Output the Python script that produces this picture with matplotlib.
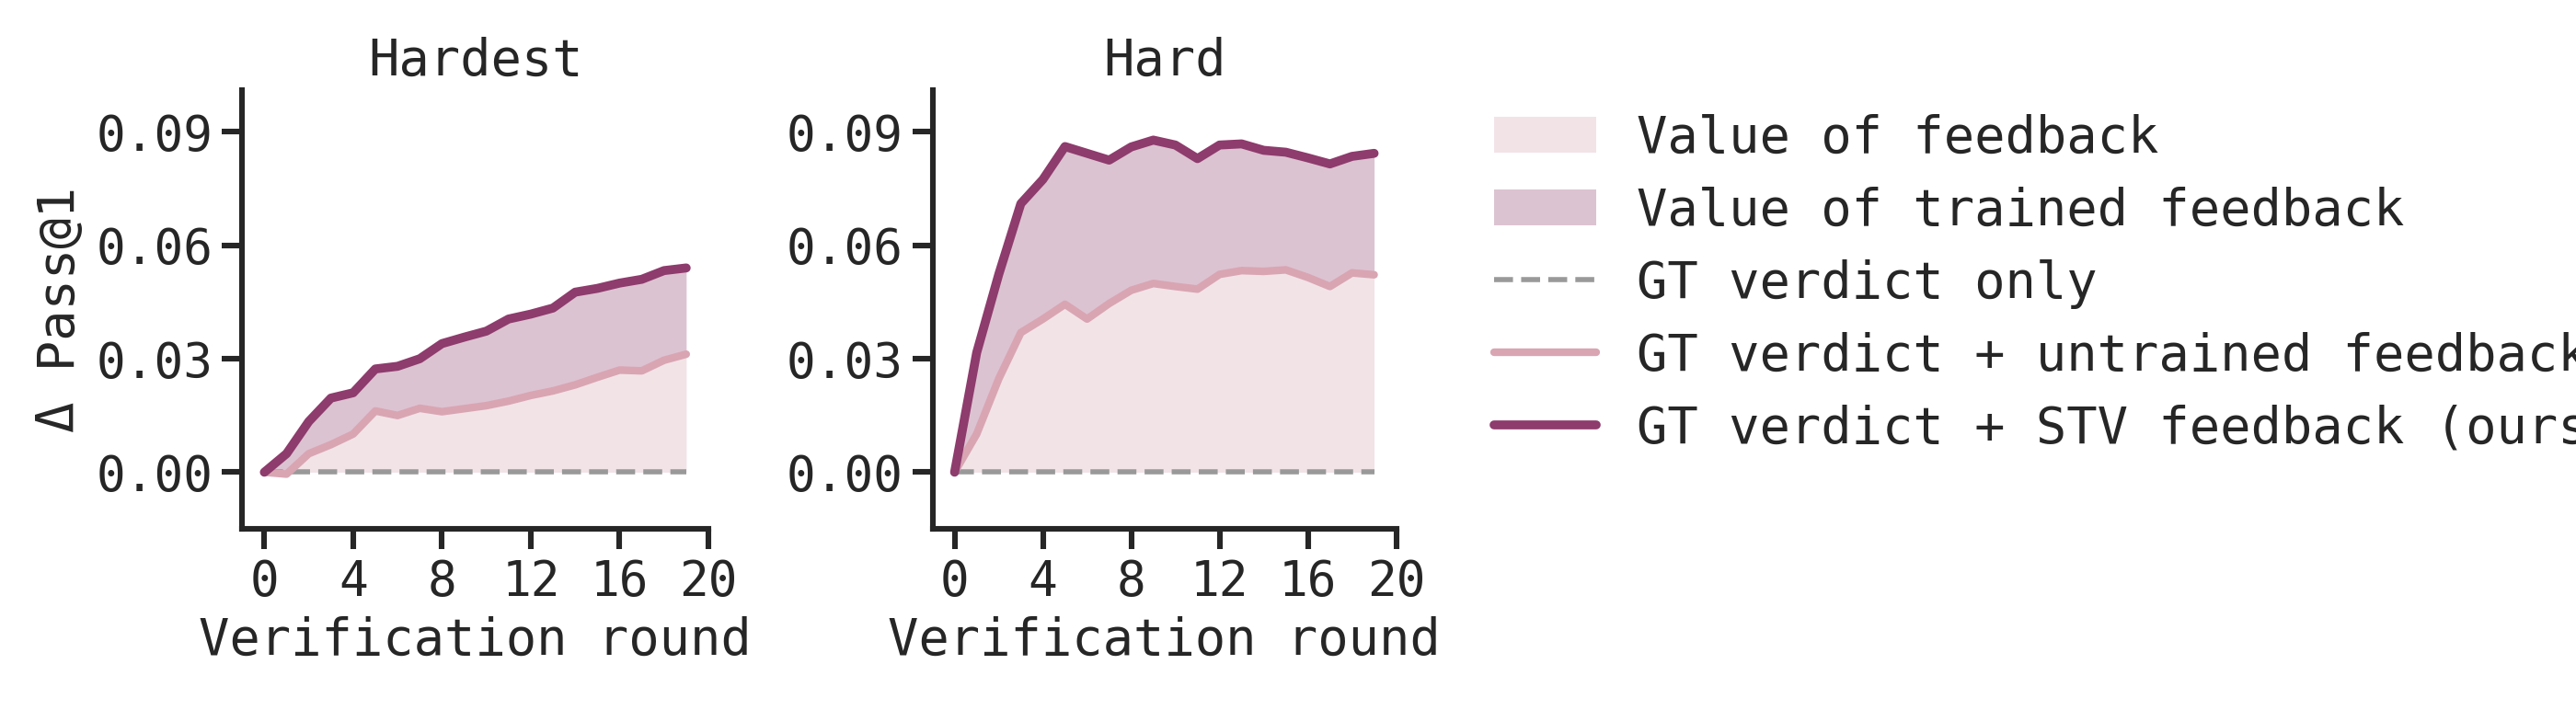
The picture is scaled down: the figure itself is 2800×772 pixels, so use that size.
import matplotlib
matplotlib.use("Agg")
import matplotlib.pyplot as plt
import seaborn as sns

rounds = list(range(20))
hardest_stv = [0, 0.0049, 0.0134, 0.0196, 0.021, 0.0273, 0.028, 0.030, 0.034, 0.0357,
               0.0373, 0.0405, 0.0418, 0.0434, 0.0476, 0.0486, 0.050, 0.051, 0.0533, 0.054]
hardest_untrained = [0, -0.0005, 0.0049, 0.0073, 0.0101, 0.0162, 0.015, 0.0169, 0.016, 0.0168,
                     0.0176, 0.0188, 0.0203, 0.0215, 0.0231, 0.0251, 0.027, 0.0268, 0.0296, 0.0312]
hard_stv = [0, 0.0316, 0.0523, 0.071, 0.0774, 0.0861, 0.0843, 0.0825, 0.086, 0.0878,
            0.0865, 0.0829, 0.0865, 0.0868, 0.0851, 0.0846, 0.0831, 0.0815, 0.0835, 0.0843]
hard_untrained = [0, 0.0101, 0.0247, 0.0369, 0.0405, 0.0444, 0.0405, 0.0446, 0.0481, 0.0499,
                  0.0491, 0.0484, 0.0523, 0.0533, 0.0531, 0.0535, 0.0515, 0.0491, 0.0527, 0.0522]
panels = [("Hardest", hardest_untrained, hardest_stv), ("Hard", hard_untrained, hard_stv)]

c_stv = '#8e3b6d'
c_untr = '#d9a5b3'
c_fill1 = '#f2e3e7'
c_fill2 = '#dcc3d1'

sns.set_theme(style='ticks')
plt.rcParams['font.family'] = ['DejaVu Sans Mono']
plt.rcParams['font.size'] = 20

fig = plt.figure(figsize=(14, 3.86), dpi=200)
axes = [fig.add_axes([0.094, 0.255, 0.181, 0.618]), fig.add_axes([0.362, 0.255, 0.18, 0.618])]

for ax, (title, untr, stv) in zip(axes, panels):
    ax.fill_between(rounds, 0, untr, color=c_fill1, lw=0, label='Value of feedback')
    ax.fill_between(rounds, untr, stv, color=c_fill2, lw=0, label='Value of trained feedback')
    ax.plot(rounds, [0] * len(rounds), '--', color='#999999', lw=2, label='GT verdict only')
    ax.plot(rounds, untr, color=c_untr, lw=3, label='GT verdict + untrained feedback')
    ax.plot(rounds, stv, color=c_stv, lw=3.5, label='GT verdict + STV feedback (ours)')
    ax.set_xlim(-1, 20)
    ax.set_ylim(-0.015, 0.101)
    ax.set_xticks([0, 4, 8, 12, 16, 20])
    ax.set_yticks([0, 0.03, 0.06, 0.09])
    ax.set_yticklabels(['0.00', '0.03', '0.06', '0.09'])
    ax.set_title(title, fontsize=20)
    ax.set_xlabel('Verification round', fontsize=20)
    ax.tick_params(labelsize=19, width=2.2, length=8)
    for s in ['left', 'bottom']:
        ax.spines[s].set_linewidth(2.2)
    sns.despine(ax=ax)

axes[0].set_ylabel('Δ Pass@1', fontsize=20)

handles, labels = axes[1].get_legend_handles_labels()
fig.legend(handles, labels, loc='center left', bbox_to_anchor=(0.562, 0.6),
           frameon=False, fontsize=20, handlelength=2.0, labelspacing=0.45)

fig.savefig('out.png', dpi=200)
